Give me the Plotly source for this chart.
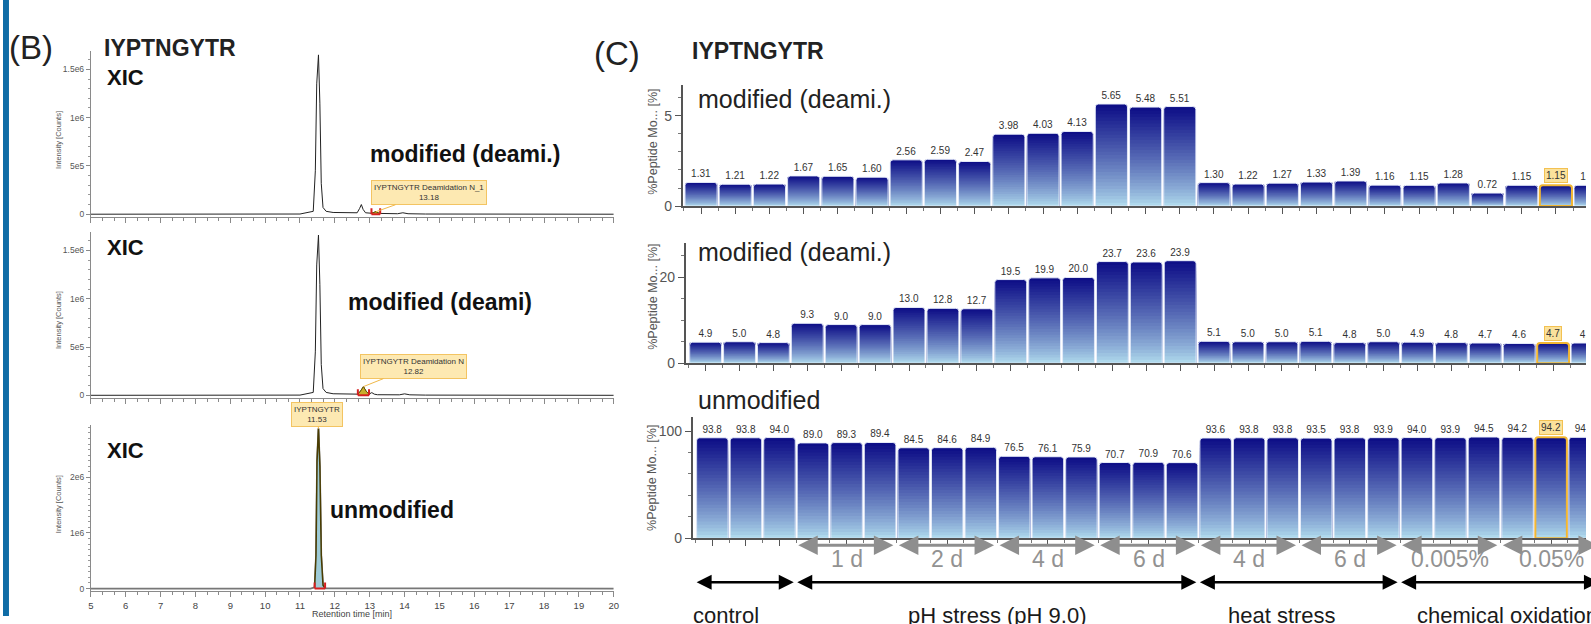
import plotly.graph_objects as go

W, H = 1591, 624
SX, SY = 1.003, 1.0135   # small calibration of the pixel layout grid

# ---------------- (B) XIC chromatograms ----------------
rt_b1 = [5.0, 11.00, 11.38, 11.44, 11.48, 11.53, 11.57, 11.61, 11.66, 11.75, 11.95, 12.40,
         12.64, 12.71, 12.76, 12.81, 12.88, 13.05, 13.12, 13.18, 13.24, 13.30, 13.80, 13.95,
         14.10, 14.60, 20.0]
int_b1 = [0, 2e3, 3e4, 4.5e5, 1.35e6, 1.65e6, 1.15e6, 3.2e5, 7e4, 3e4, 1.8e4, 1.2e4,
          1.5e4, 6e4, 1.0e5, 5e4, 1.5e4, 1e4, 1.6e4, 2.6e4, 1.4e4, 8e3, 5e3, 1.5e4,
          5e3, 2e3, 0]

rt_b2 = [5.0, 11.00, 11.38, 11.44, 11.48, 11.53, 11.57, 11.61, 11.66, 11.75, 11.95, 12.40,
         12.66, 12.74, 12.82, 12.90, 12.98, 13.06, 13.13, 13.22, 13.85, 14.00, 14.15, 14.60, 20.0]
int_b2 = [0, 2e3, 3e4, 4.5e5, 1.35e6, 1.66e6, 1.15e6, 3.2e5, 7e4, 3e4, 1.6e4, 1e4,
          1.2e4, 4.5e4, 9e4, 4e4, 1.2e4, 2.8e4, 1.2e4, 6e3, 5e3, 1.5e4, 5e3, 2e3, 0]

rt_b3 = [5.0, 11.30, 11.42, 11.46, 11.49, 11.53, 11.57, 11.61, 11.66, 11.72, 20.0]
int_b3 = [0, 0, 2e4, 6e5, 2.3e6, 2.88e6, 2.2e6, 6e5, 6e4, 5e3, 0]

peak_windows = [[13.05, 13.30], [12.66, 12.98], [11.42, 11.72]]
peak_apex_rt = [13.18, 12.82, 11.53]
peak_apex_int = [2.6e4, 9e4, 2.88e6]
peak_labels = ["IYPTNGYTR Deamidation N_1<br>13.18",
               "IYPTNGYTR Deamidation N<br>12.82",
               "IYPTNGYTR<br>11.53"]
xic_ticks = [[0, 5e5, 1e6, 1.5e6], [0, 5e5, 1e6, 1.5e6], [0, 1e6, 2e6]]
xic_ticktext = [["0", "5e5", "1e6", "1.5e6"], ["0", "5e5", "1e6", "1.5e6"], ["0", "1e6", "2e6"]]
rt_ticks = list(range(5, 21))

# ---------------- (C) relative abundance bar charts ----------------
samples = list(range(27))
pct_deami_1 = [1.31, 1.21, 1.22, 1.67, 1.65, 1.60, 2.56, 2.59, 2.47, 3.98, 4.03, 4.13,
               5.65, 5.48, 5.51, 1.30, 1.22, 1.27, 1.33, 1.39, 1.16, 1.15, 1.28, 0.72,
               1.15, 1.15, 1.15]
pct_deami_2 = [4.9, 5.0, 4.8, 9.3, 9.0, 9.0, 13.0, 12.8, 12.7, 19.5, 19.9, 20.0,
               23.7, 23.6, 23.9, 5.1, 5.0, 5.0, 5.1, 4.8, 5.0, 4.9, 4.8, 4.7,
               4.6, 4.7, 4.7]
pct_unmod = [93.8, 93.8, 94.0, 89.0, 89.3, 89.4, 84.5, 84.6, 84.9, 76.5, 76.1, 75.9,
             70.7, 70.9, 70.6, 93.6, 93.8, 93.8, 93.5, 93.8, 93.9, 94.0, 93.9, 94.5,
             94.2, 94.2, 94.2]
highlight_idx = 25
sub_groups = ["1 d", "2 d", "4 d", "6 d", "4 d", "6 d", "0.005%", "0.05%"]
sub_start = [3, 6, 9, 12, 15, 18, 21, 24]
sub_end = [6, 9, 12, 15, 18, 21, 24, 27]
main_groups = ["control", "pH stress (pH 9.0)", "heat stress", "chemical oxidation"]
main_start = [0, 3, 15, 21]
main_end = [3, 15, 21, 27]


def pxx(x):
    return min(1.0, x * SX / W)


def pxy(y):
    return max(0.0, 1 - y * SY / H)


FONT = "Liberation Sans"
fig = go.Figure()
ann = []


def text_ann(txt, x, y, size, color="#222", xanchor="left", angle=0, **kw):
    d = dict(x=pxx(x), y=pxy(y), xref="paper", yref="paper", text=txt, showarrow=False,
             xanchor=xanchor, yanchor="middle", textangle=angle,
             font=dict(size=size, color=color, family=FONT))
    d.update(kw)
    ann.append(d)


# ---------- left panels ----------
left_y = [(217, 51, [-0.03e6, 1.69e6]), (398, 232, [-0.03e6, 1.69e6]), (591, 425, [-0.05e6, 2.94e6])]
traces_b = [(rt_b1, int_b1), (rt_b2, int_b2), (rt_b3, int_b3)]
for i in range(3):
    n = i + 1
    xa = "x" if n == 1 else "x%d" % n
    ya = "y" if n == 1 else "y%d" % n
    rt, it = traces_b[i]
    w0, w1 = peak_windows[i]
    sel = [(r, v) for r, v in zip(rt, it) if w0 <= r <= w1]
    if i < 2:
        fig.add_trace(go.Scatter(x=rt, y=it, mode="lines", line=dict(color="#222", width=1),
                                 xaxis=xa, yaxis=ya, hoverinfo="skip"))
        fig.add_trace(go.Scatter(x=[s[0] for s in sel], y=[s[1] for s in sel], mode="lines",
                                 fill="tozeroy", fillcolor="#c9ae2c", line=dict(color="#6a5600", width=1),
                                 xaxis=xa, yaxis=ya, hoverinfo="skip"))
    else:
        fig.add_trace(go.Scatter(x=rt, y=it, mode="lines", line=dict(color="#777", width=1.8),
                                 xaxis=xa, yaxis=ya, hoverinfo="skip"))
        fig.add_trace(go.Scatter(x=[s[0] for s in sel], y=[s[1] for s in sel], mode="lines",
                                 fill="tozeroy", fillcolor="#9ecbd6", line=dict(color="#4a3c00", width=1.5),
                                 xaxis=xa, yaxis=ya, hoverinfo="skip"))
    # integration bracket (red)
    for xv in (w0, w1):
        fig.add_shape(type="line", xref=xa, yref=ya, x0=xv, x1=xv, ysizemode="pixel", yanchor=0,
                      y0=0, y1=6, line=dict(color="#d42020", width=2))
    fig.add_shape(type="line", xref=xa, yref=ya, x0=w0, x1=w1, y0=0, y1=0,
                  line=dict(color="#d42020", width=2))
    y0, y1, rng = left_y[i]
    fig.layout["xaxis" if n == 1 else "xaxis%d" % n] = dict(
        domain=[pxx(88), pxx(612)], range=[5, 20], anchor=ya, showline=True, linecolor="#8a8a8a",
        linewidth=1, ticks="outside", ticklen=5, tickcolor="#8a8a8a", tickvals=rt_ticks,
        showticklabels=(i == 2), tickfont=dict(size=9.5, color="#444", family=FONT),
        minor=dict(dtick=1 / 3, tick0=5, ticks="outside", ticklen=3, tickcolor="#8a8a8a"),
        showgrid=False, zeroline=False, fixedrange=True)
    fig.layout["yaxis" if n == 1 else "yaxis%d" % n] = dict(
        domain=[pxy(y0), pxy(y1)], range=rng, anchor=xa, showline=True, linecolor="#8a8a8a",
        ticks="outside", ticklen=4, tickcolor="#8a8a8a", tickvals=xic_ticks[i],
        ticktext=xic_ticktext[i], tickfont=dict(size=8.5, color="#555", family=FONT),
        minor=dict(tick0=0, dtick=1e5, ticks="outside", ticklen=2, tickcolor="#999"),
        showgrid=False, zeroline=False, fixedrange=True)
    # peak label box
    offs = [(53, -19), (50, -20), (-1, -14)][i]
    ann.append(dict(x=peak_apex_rt[i], y=peak_apex_int[i], xref=xa, yref=ya, text=peak_labels[i],
                    showarrow=True, arrowhead=0, arrowwidth=1, arrowcolor="#f0b848", ax=offs[0], ay=offs[1],
                    xanchor="center", yanchor="middle",
                    bgcolor="#fde9b2", bordercolor="#f3c462", borderwidth=1, borderpad=2,
                    font=dict(size=8, color="#333", family=FONT)))
    text_ann("Intensity [Counts]", 55, [140, 320, 504][i], 7.5, color="#555", xanchor="center", angle=-90)
    text_ann("<b>XIC</b>", 102, [77, 247, 450][i], 22, color="#111")

text_ann("Retention time [min]", 350, 614, 9, color="#444", xanchor="center")
for txt, x, y in [("modified (deami.)", 366, 154), ("modified (deami)", 344, 302), ("unmodified", 326, 510)]:
    text_ann("<b>%s</b>" % txt, x, y, 23, color="#111")
text_ann("(B)", 4, 47, 33)
text_ann("<b>IYPTNGYTR</b>", 99, 48, 23)
text_ann("(C)", 590, 53, 33)
text_ann("<b>IYPTNGYTR</b>", 688, 51, 23)


# ---------- right panels ----------
def bar_color(t):
    top = (12, 12, 134)
    bot = (180, 224, 240)
    f = t ** 0.8
    return "rgb(%d,%d,%d)" % tuple(round(b + (a - b) * f) for a, b in zip(top, bot))


right = [
    dict(x0=681, r=[-0.54, 25.88], y0=206, y1=85, yr=[0, 6.7], dt=5, mdt=1, vals=pct_deami_1,
         fmt="{:.2f}", lab="modified (deami.)", laby=99, tity=142),
    dict(x0=684, r=[-0.59, 25.97], y0=363, y1=243, yr=[0, 28], dt=20, mdt=5, vals=pct_deami_2,
         fmt="{:.1f}", lab="modified (deami.)", laby=252, tity=297),
    dict(x0=691, r=[-0.59, 26.04], y0=538, y1=417, yr=[0, 113], dt=100, mdt=20, vals=pct_unmod,
         fmt="{:.1f}", lab="unmodified", laby=400, tity=478),
]
NSL = 30
for j, p in enumerate(right):
    n = j + 4
    xa, ya = "x%d" % n, "y%d" % n
    vals = p["vals"]
    for k in range(NSL):
        frac = 1 - k / NSL
        fig.add_trace(go.Bar(x=samples, y=[v * frac for v in vals], width=0.94,
                             marker=dict(color=bar_color(1 - (k + 0.5) / NSL), line=dict(width=0),
                                         cornerradius=3 if k == 0 else 0),
                             xaxis=xa, yaxis=ya, hoverinfo="skip"))
    texts = [p["fmt"].format(v) if i != highlight_idx else "" for i, v in enumerate(vals)]
    lcol = ["#f2b632" if i == highlight_idx else "rgba(235,240,252,0.95)" for i in samples]
    lw = [2 if i == highlight_idx else 1 for i in samples]
    fig.add_trace(go.Bar(x=samples, y=vals, width=0.94, text=texts, textposition="outside",
                         constraintext="none", cliponaxis=True,
                         textfont=dict(size=10, color="#333", family=FONT),
                         marker=dict(color="rgba(0,0,0,0)", line=dict(color=lcol, width=lw), cornerradius=3),
                         xaxis=xa, yaxis=ya, hoverinfo="skip"))
    ann.append(dict(x=highlight_idx, y=vals[highlight_idx], xref=xa, yref=ya,
                    text=p["fmt"].format(vals[highlight_idx]), showarrow=False, yshift=10,
                    xanchor="center", yanchor="middle",
                    bgcolor="#fbe29c", bordercolor="#f3c152", borderwidth=1, borderpad=1,
                    font=dict(size=10, color="#333", family=FONT)))
    fig.layout["xaxis%d" % n] = dict(
        domain=[pxx(p["x0"]), 1], range=p["r"], anchor=ya, showline=True, linecolor="#555", linewidth=1.5,
        ticks="outside", ticklen=6, tickcolor="#555", tickvals=samples, showticklabels=False,
        minor=dict(tickmode="array", tickvals=[s - 0.5 for s in samples] + [26.5], ticks="outside",
                   ticklen=3, tickcolor="#777"),
        showgrid=False, zeroline=False, fixedrange=True)
    fig.layout["yaxis%d" % n] = dict(
        domain=[pxy(p["y0"]), pxy(p["y1"])], range=p["yr"], anchor=xa, showline=True, linecolor="#555",
        linewidth=1.5, ticks="outside", ticklen=6, tickcolor="#555", tick0=0, dtick=p["dt"],
        tickfont=dict(size=14, color="#555", family=FONT),
        minor=dict(tick0=0, dtick=p["mdt"], ticks="outside", ticklen=3, tickcolor="#777"),
        showgrid=False, zeroline=False, fixedrange=True)
    text_ann(p["lab"], 694, p["laby"], 25)
    text_ann("%Peptide Mo... [%]", 651, p["tity"], 12.5, color="#555", xanchor="center", angle=-90)

# group arrows under bottom chart (data coordinates of x6)
for lab, s, e in zip(sub_groups, sub_start, sub_end):
    ann.append(dict(x=s - 0.5, y=pxy(545), ax=e - 0.5, ay=0, xref="x6", axref="x6",
                    yref="paper", ayref="pixel", text="", showarrow=True, arrowside="end+start",
                    arrowhead=2, arrowsize=1.3, arrowwidth=3, arrowcolor="#8e8e8e",
                    standoff=2, startstandoff=2))
    ann.append(dict(x=(s + e) / 2 - 0.5, y=pxy(559), xref="x6", yref="paper", text=lab, showarrow=False,
                    xanchor="center", yanchor="middle",
                    font=dict(size=23, color="#929292", family=FONT)))
main_shift = [-20, 0, -17, 7]
for lab, s, e, sh in zip(main_groups, main_start, main_end, main_shift):
    ann.append(dict(x=s - 0.5, y=pxy(582), ax=e - 0.5, ay=0, xref="x6", axref="x6",
                    yref="paper", ayref="pixel", text="", showarrow=True, arrowside="end+start",
                    arrowhead=2, arrowsize=1.2, arrowwidth=2.5, arrowcolor="#000",
                    standoff=1, startstandoff=1))
    ann.append(dict(x=(s + e) / 2 - 0.5, y=pxy(615), xref="x6", yref="paper", text=lab, showarrow=False,
                    xanchor="center", yanchor="middle", xshift=sh,
                    font=dict(size=22, color="#1a1a1a", family=FONT)))

fig.update_layout(
    width=W, height=H, margin=dict(l=0, r=0, t=0, b=0),
    paper_bgcolor="white", plot_bgcolor="white", showlegend=False, barmode="overlay",
    font=dict(family=FONT), annotations=ann,
    shapes=list(fig.layout.shapes) + [dict(type="rect", xref="paper", yref="paper", x0=0, x1=6 / W,
                                           y0=0, y1=1, fillcolor="#0f6ca6", line=dict(width=0), layer="above")],
)

fig.write_html("out.html", config={"displayModeBar": False},
               post_script="document.body.style.margin='0';document.body.style.overflow='hidden';")
